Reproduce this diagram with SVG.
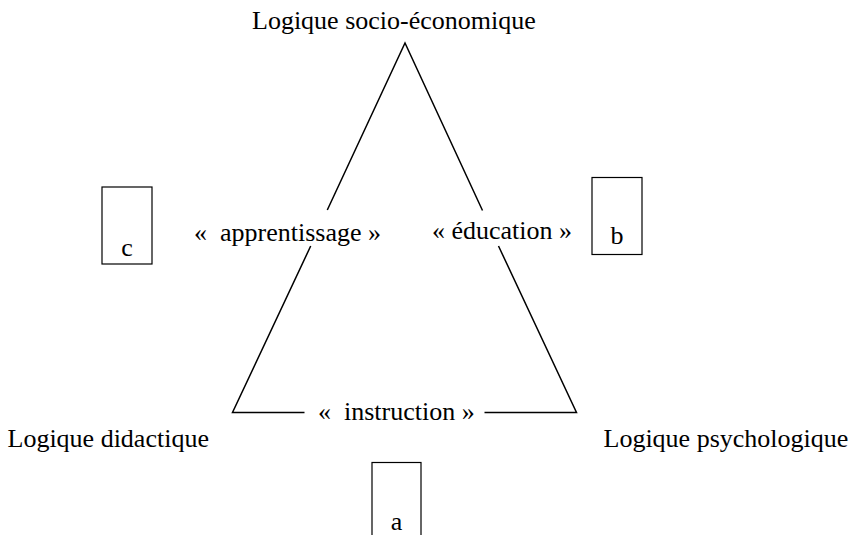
<svg xmlns="http://www.w3.org/2000/svg" width="852" height="535" viewBox="0 0 852 535">
<style>
text{font-family:"Liberation Serif","Times New Roman",serif;font-size:26px;fill:#000}
.ln{stroke:#000;stroke-width:1.5;fill:none;stroke-linecap:butt}
.box{stroke:#000;stroke-width:1.2;fill:#fff}
.mid{text-anchor:middle}
</style>
<rect width="852" height="535" fill="#fff"/>
<g id="connectors">
<polyline class="ln" points="327.3,210 405,43 482.5,210.5"/>
<polyline class="ln" points="310.7,246 232.5,412.5 304.5,412.5"/>
<polyline class="ln" points="498.5,246 576.5,412.5 484.5,412.5"/>
</g>
<g id="node-top"><text x="252" y="29">Logique socio-économique</text></g>
<g id="node-left"><text x="7.5" y="447">Logique didactique</text></g>
<g id="node-right"><text x="603.5" y="447">Logique psychologique</text></g>
<g id="label-apprentissage"><text x="194" y="241" xml:space="preserve">«  apprentissage »</text></g>
<g id="label-education"><text x="432" y="239">« éducation »</text></g>
<g id="label-instruction"><text x="318" y="420" xml:space="preserve">«  instruction »</text></g>
<g id="box-c"><rect class="box" x="102" y="187" width="50" height="77"/><text class="mid" x="127" y="256">c</text></g>
<g id="box-b"><rect class="box" x="592" y="177.5" width="50" height="77"/><text class="mid" x="617" y="244">b</text></g>
<g id="box-a"><rect class="box" x="372" y="462.5" width="49" height="90"/><text class="mid" x="396.5" y="530">a</text></g>
</svg>
